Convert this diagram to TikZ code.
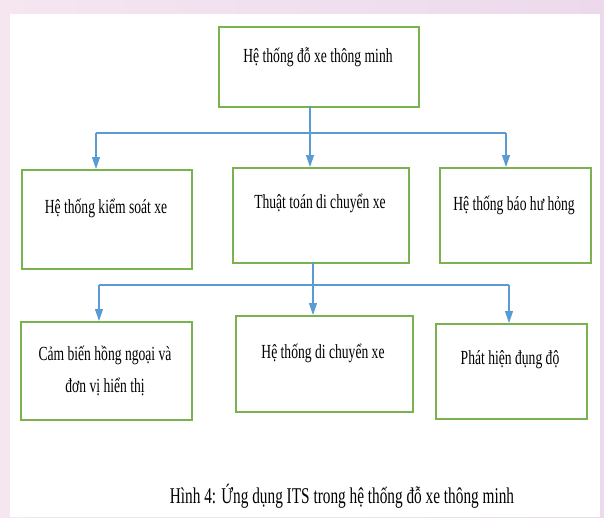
\documentclass[tikz,border=0pt]{standalone}
\usepackage{fontspec}
\setmainfont{Liberation Serif}[FakeStretch=0.68]
\usetikzlibrary{arrows.meta}
\definecolor{bgpink}{RGB}{245,230,240}
\definecolor{bglav}{RGB}{236,218,236}
\definecolor{boxgreen}{RGB}{122,178,80}
\definecolor{lineblue}{RGB}{91,155,213}
\tikzset{
  box/.style={draw=boxgreen, line width=1.8pt, fill=white, inner sep=0pt, anchor=north west},
  lbl/.style={font=\fontsize{20}{24}\selectfont, align=center, inner sep=0pt, text=black},
  conn/.style={draw=lineblue, line width=1.1pt},
  arr/.style={conn, -{Triangle[length=12pt,width=8pt]}},
}
\begin{document}
\begin{tikzpicture}[x=1pt,y=-1pt]
\useasboundingbox (0,0) rectangle (604,517);
\shade[left color=bgpink, right color=bglav] (0,0) rectangle (604,517);
\fill[white] (10,14) rectangle (600,517);
% boxes
\node[box, minimum width=200pt, minimum height=80pt] (top) at (218,26) {};
\node[box, minimum width=170pt, minimum height=99pt] (b1) at (21,169) {};
\node[box, minimum width=176pt, minimum height=95pt] (b2) at (232,167) {};
\node[box, minimum width=151pt, minimum height=95pt] (b3) at (439,167) {};
\node[box, minimum width=171pt, minimum height=98pt] (c1) at (20,321) {};
\node[box, minimum width=177pt, minimum height=96pt] (c2) at (235,315) {};
\node[box, minimum width=151pt, minimum height=95pt] (c3) at (435,323) {};
% labels
\node[lbl] (ttop) at (318,57) {Hệ thống đỗ xe thông minh};
\node[lbl] (tb1) at (106,208) {Hệ thống kiểm soát xe};
\node[lbl] (tb2) at (320,203) {Thuật toán di chuyển xe};
\node[lbl] (tb3) at (514,205) {Hệ thống báo hư hỏng};
\node[lbl, font=\fontsize{20}{32}\selectfont] (tc1) at (105,371) {Cảm biến hồng ngoại và\\đơn vị hiển thị};
\node[lbl] (tc2) at (323,353) {Hệ thống di chuyển xe};
\node[lbl] (tc3) at (510,360) {Phát hiện đụng độ};
\node[lbl, font=\fontsize{22.5}{26}\selectfont] (cap) at (342,496) {Hình 4: Ứng dụng ITS trong hệ thống đỗ xe thông minh};
% connectors level 1
\coordinate (s1) at (310,106);
\coordinate (h1) at (310,133);
\coordinate (h1l) at (96,133);
\coordinate (h1r) at (506,133);
\draw[conn] (s1) -- (h1);
\draw[conn] (h1l) -- (h1r);
\draw[arr] (h1l) -- (h1l |- b1.north);
\draw[arr] (h1) -- (h1 |- b2.north);
\draw[arr] (h1r) -- (h1r |- b3.north);
% connectors level 2
\coordinate (s2) at (313,262);
\coordinate (h2) at (313,285);
\coordinate (h2l) at (99,285);
\coordinate (h2r) at (509,285);
\draw[conn] (s2) -- (h2);
\draw[conn] (h2l) -- (h2r);
\draw[arr] (h2l) -- (h2l |- c1.north);
\draw[arr] (h2) -- (h2 |- c2.north);
\draw[arr] (h2r) -- (h2r |- c3.north);
\end{tikzpicture}
\end{document}
